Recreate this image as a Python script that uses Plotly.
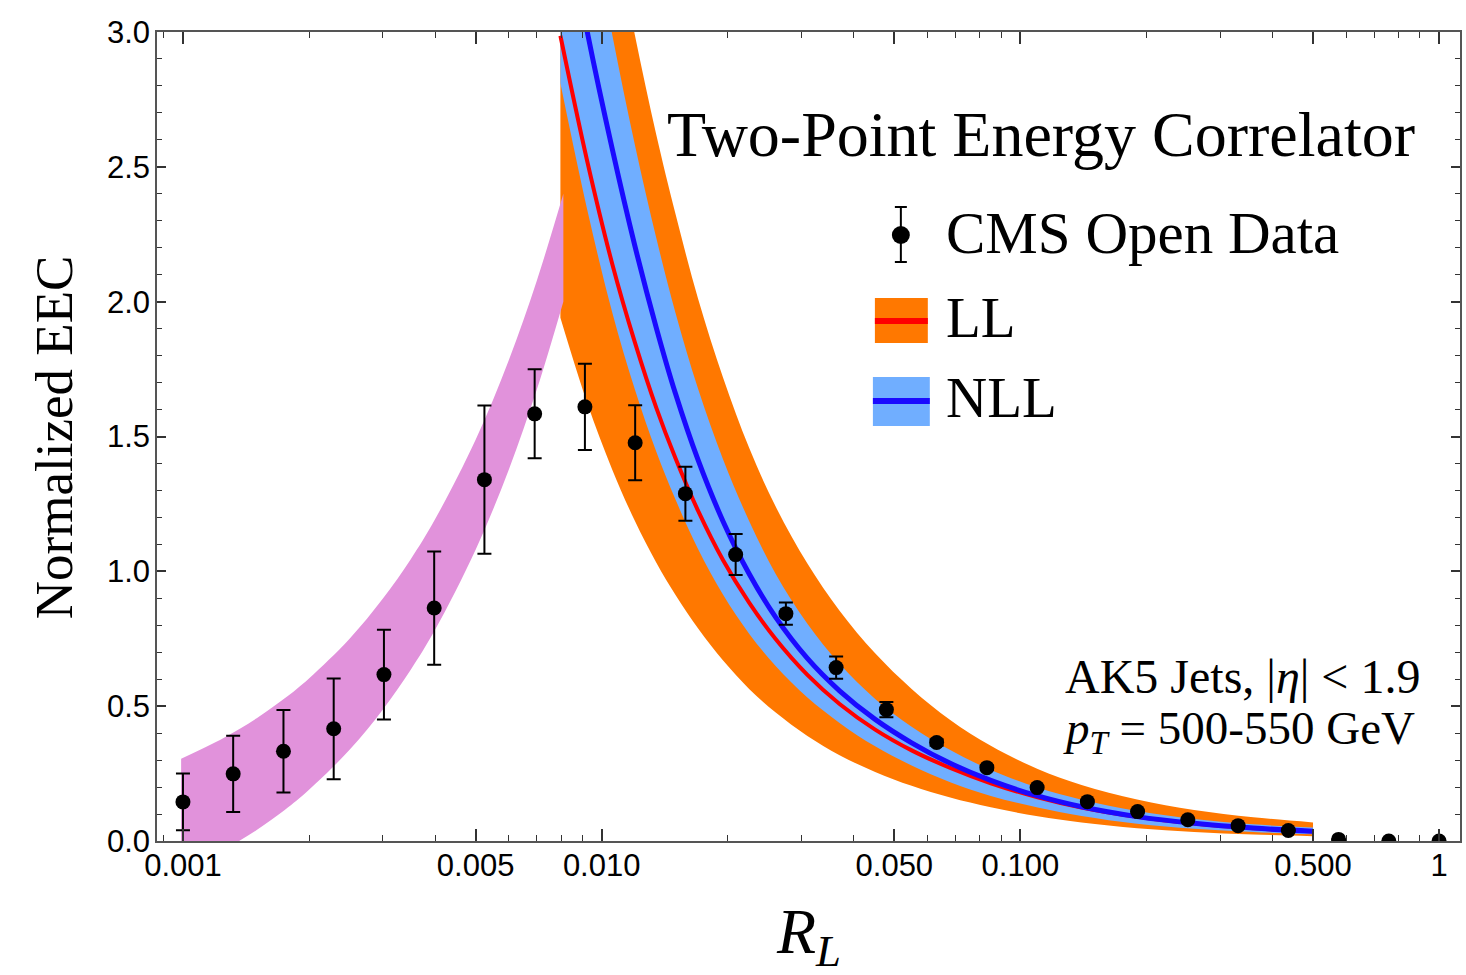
import plotly.graph_objects as go

# ---- CMS Open Data: normalized two-point EEC in log-spaced R_L bins ----
R_L = [0.001, 0.001318, 0.001738, 0.002291, 0.003020, 0.003981, 0.005248, 0.006918,
       0.009120, 0.012023, 0.015849, 0.020893, 0.027542, 0.036308, 0.047863, 0.063096,
       0.083176, 0.109648, 0.144544, 0.190546, 0.251189, 0.331131, 0.436516, 0.575440,
       0.758578, 1.0]
eec = [0.145, 0.249, 0.333, 0.416, 0.617, 0.864, 1.340, 1.584, 1.610, 1.477, 1.288, 1.062,
       0.843, 0.643, 0.487, 0.365, 0.272, 0.198, 0.146, 0.109, 0.079, 0.057, 0.039, 0.006,
       0.0, 0.0]
eec_err = [0.105, 0.141, 0.153, 0.187, 0.166, 0.210, 0.275, 0.165, 0.160, 0.139, 0.100, 0.076,
           0.041, 0.041, 0.028, 0.012, 0.008, 0.006, 0.004, 0.003, 0.002, 0.002, 0.002, 0.001,
           0.0, 0.0]

# ---- free-hadron region band ----
R_free = [0.00099, 0.00125, 0.0015, 0.00175, 0.002, 0.0025, 0.003, 0.0035, 0.004, 0.005,
          0.006, 0.007, 0.0081]
free_hi = [0.305, 0.382, 0.455, 0.529, 0.603, 0.750, 0.898, 1.045, 1.193, 1.488, 1.783,
           2.078, 2.400]
free_lo = [-0.110, -0.033, 0.041, 0.115, 0.190, 0.338, 0.487, 0.635, 0.783, 1.080, 1.377,
           1.674, 2.000]

# ---- perturbative predictions (LL and NLL with scale bands) ----
R_pert = [0.00797, 0.00924, 0.0106, 0.0120, 0.0135, 0.0150, 0.0170, 0.0195, 0.0225, 0.026,
          0.031, 0.037, 0.045, 0.055, 0.068, 0.085, 0.11, 0.14, 0.19, 0.26, 0.36, 0.50]
ll_hi = [4.64, 3.97, 3.42, 2.99, 2.62, 2.327, 2.01, 1.718, 1.458, 1.242, 1.029, 0.854, 0.696,
         0.564, 0.449, 0.353, 0.267, 0.208, 0.154, 0.115, 0.088, 0.069]
ll_mid = [2.986, 2.52, 2.14, 1.85, 1.607, 1.42, 1.224, 1.041, 0.884, 0.75, 0.616, 0.508,
          0.413, 0.336, 0.271, 0.214, 0.162, 0.124, 0.0895, 0.0646, 0.0469, 0.035]
ll_lo = [1.94, 1.623, 1.377, 1.1875, 1.033, 0.913, 0.788, 0.669, 0.564, 0.477, 0.389, 0.318,
         0.256, 0.2045, 0.161, 0.1247, 0.0918, 0.0686, 0.0474, 0.0335, 0.0242, 0.018]
nll_hi = [4.09, 3.485, 2.99, 2.583, 2.237, 1.96, 1.676, 1.415, 1.187, 0.992, 0.806, 0.657,
          0.527, 0.424, 0.337, 0.2635, 0.198, 0.153, 0.111, 0.0819, 0.0617, 0.050]
nll_mid = [3.53, 3.0, 2.566, 2.208, 1.904, 1.66, 1.412, 1.185, 0.991, 0.831, 0.677, 0.557,
           0.451, 0.364, 0.288, 0.2247, 0.167, 0.127, 0.0905, 0.0654, 0.0478, 0.036]
nll_lo = [2.81, 2.34, 1.96, 1.675, 1.444, 1.267, 1.082, 0.913, 0.769, 0.65, 0.532, 0.438,
          0.351, 0.28, 0.218, 0.167, 0.124, 0.0929, 0.0642, 0.0458, 0.0336, 0.025]

# ---- axis ticks ----
x_major = [0.001, 0.005, 0.01, 0.05, 0.1, 0.5, 1]
x_major_text = ["0.001", "0.005", "0.010", "0.050", "0.100", "0.500", "1"]
x_minor = [0.0009, 0.002, 0.003, 0.004, 0.006, 0.007, 0.008, 0.009,
           0.02, 0.03, 0.04, 0.06, 0.07, 0.08, 0.09,
           0.2, 0.3, 0.4, 0.6, 0.7, 0.8, 0.9]
y_major = [0.0, 0.5, 1.0, 1.5, 2.0, 2.5, 3.0]
y_major_text = ["0.0", "0.5", "1.0", "1.5", "2.0", "2.5", "3.0"]

ORANGE = "#FF7800"
LIGHTBLUE = "#70AEFF"
PINK = "#E192DB"
RED = "#FF0000"
BLUE = "#1A0AFF"

W, H = 1466, 975
L_M, R_M, T_M, B_M = 157, 4, 32, 134
PW, PH = W - L_M - R_M, H - T_M - B_M


def px(x):
    return (x - L_M) / PW


def py(y):
    return (H - B_M - y) / PH


fig = go.Figure()


def band(xs, lo, hi, color):
    fig.add_trace(go.Scatter(x=xs, y=lo, mode="lines", line=dict(width=0, shape="spline"),
                             showlegend=False, hoverinfo="skip"))
    fig.add_trace(go.Scatter(x=xs, y=hi, mode="lines", line=dict(width=0, shape="spline"),
                             fill="tonexty", fillcolor=color, showlegend=False,
                             hoverinfo="skip"))


band(R_pert, ll_lo, ll_hi, ORANGE)       # LL band
band(R_pert, nll_lo, nll_hi, LIGHTBLUE)  # NLL band
band(R_free, free_lo, free_hi, PINK)     # free-hadron band

# central curves
fig.add_trace(go.Scatter(x=R_pert, y=ll_mid, mode="lines",
                         line=dict(color=RED, width=4, shape="spline"), showlegend=False))
fig.add_trace(go.Scatter(x=R_pert, y=nll_mid, mode="lines",
                         line=dict(color=BLUE, width=5, shape="spline"), showlegend=False))
# data
fig.add_trace(go.Scatter(
    x=R_L, y=eec, mode="markers",
    marker=dict(color="black", size=15),
    error_y=dict(type="data", array=eec_err, color="black", thickness=2, width=7),
    showlegend=False))

axis_font = dict(family="Liberation Sans, Arial, sans-serif", size=31, color="black")
fig.update_xaxes(
    type="log", range=[-3.062, 0.050],
    tickmode="array", tickvals=x_major, ticktext=x_major_text,
    ticks="inside", ticklen=12, tickwidth=1.5, tickcolor="#333",
    minor=dict(tickmode="array", tickvals=x_minor, ticks="inside", ticklen=6,
               tickwidth=1.2, tickcolor="#333", showgrid=False),
    showline=True, linecolor="#555", linewidth=1.5, mirror="ticks",
    showgrid=False, zeroline=False, tickfont=axis_font, ticklabelstandoff=-4,
)
fig.update_yaxes(
    range=[0, 3],
    tickmode="array", tickvals=y_major, ticktext=y_major_text,
    ticks="inside", ticklen=9, tickwidth=1.5, tickcolor="#333",
    minor=dict(dtick=0.1, ticks="inside", ticklen=5, tickwidth=1.2, tickcolor="#333",
               showgrid=False),
    showline=True, linecolor="#555", linewidth=1.5, mirror="ticks",
    showgrid=False, zeroline=False, tickfont=axis_font, ticklabelstandoff=-1,
)

serif = "Liberation Serif, Times New Roman, serif"
annotations = [
    dict(text="Two-Point Energy Correlator", x=px(1042), y=py(135), xanchor="center",
         yanchor="middle", font=dict(family=serif, size=64, color="black")),
    dict(text="CMS Open Data", x=px(945), y=py(233), xanchor="left", yanchor="middle",
         font=dict(family=serif, size=59, color="black")),
    dict(text="LL", x=px(945), y=py(317), xanchor="left", yanchor="middle",
         font=dict(family=serif, size=57, color="black")),
    dict(text="NLL", x=px(945), y=py(397), xanchor="left", yanchor="middle",
         font=dict(family=serif, size=57, color="black")),
    dict(text="AK5 Jets, |<i>η</i>| &lt; 1.9", x=px(1244), y=py(676), xanchor="center",
         yanchor="middle", font=dict(family=serif, size=48, color="black")),
    dict(text="<i>p</i><sub><i>T</i></sub> = 500-550 GeV", x=px(1241), y=py(731),
         xanchor="center", yanchor="middle", font=dict(family=serif, size=47, color="black")),
    dict(text="<i>R</i><sub><i>L</i></sub>", x=px(810), y=py(936), xanchor="center",
         yanchor="middle", font=dict(family=serif, size=64, color="black")),
    dict(text="Normalized EEC", x=px(54), y=py(437), xanchor="center", yanchor="middle",
         textangle=-90, font=dict(family=serif, size=53, color="black")),
]
for a in annotations:
    a.update(xref="paper", yref="paper", showarrow=False)

shapes = [
    # data-point key
    dict(type="line", x0=px(902), x1=px(902), y0=py(207), y1=py(262),
         line=dict(color="black", width=2)),
    dict(type="line", x0=px(896), x1=px(908), y0=py(207), y1=py(207),
         line=dict(color="black", width=2)),
    dict(type="line", x0=px(896), x1=px(908), y0=py(262), y1=py(262),
         line=dict(color="black", width=2)),
    dict(type="circle", x0=px(893), x1=px(911), y0=py(226), y1=py(244),
         fillcolor="black", line=dict(width=0)),
    # LL key
    dict(type="rect", x0=px(876), x1=px(929), y0=py(298), y1=py(343),
         fillcolor=ORANGE, line=dict(width=0)),
    dict(type="line", x0=px(876), x1=px(929), y0=py(321), y1=py(321),
         line=dict(color=RED, width=6)),
    # NLL key
    dict(type="rect", x0=px(874), x1=px(931), y0=py(377), y1=py(426),
         fillcolor=LIGHTBLUE, line=dict(width=0)),
    dict(type="line", x0=px(874), x1=px(931), y0=py(401), y1=py(401),
         line=dict(color=BLUE, width=6)),
]
for s in shapes:
    s.update(xref="paper", yref="paper")

fig.update_layout(
    width=W, height=H,
    margin=dict(l=L_M, r=R_M, t=T_M, b=B_M),
    plot_bgcolor="white", paper_bgcolor="white",
    annotations=annotations, shapes=shapes, showlegend=False,
)

fig.write_html("out.html")
